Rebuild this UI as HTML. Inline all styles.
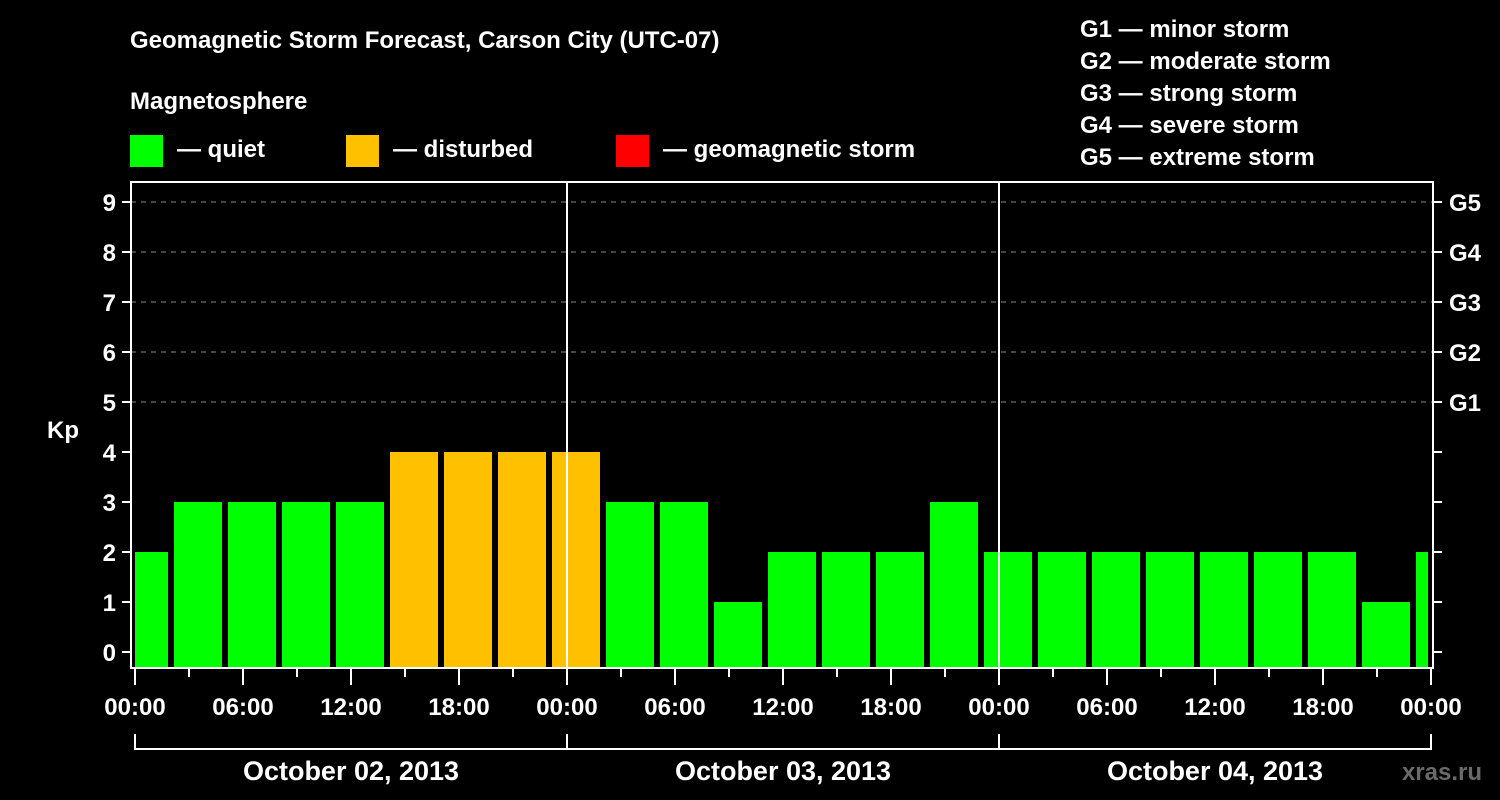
<!DOCTYPE html>
<html><head><meta charset="utf-8"><style>
html,body{margin:0;padding:0;background:#000;width:1500px;height:800px;overflow:hidden}
svg{display:block;font-family:"Liberation Sans",sans-serif;font-weight:bold;fill:#fff}
</style></head><body>
<svg id="chart" width="1500" height="800" viewBox="0 0 1500 800">
<rect x="0" y="0" width="1500" height="800" fill="#000"/>
<text x="130" y="48" font-size="24">Geomagnetic Storm Forecast, Carson City (UTC-07)</text>
<text x="130" y="109" font-size="24">Magnetosphere</text>
<g><rect x="130" y="135" width="33" height="32" fill="#00ff00"/><text x="177" y="157" font-size="24">— quiet</text></g>
<g><rect x="346" y="135" width="33" height="32" fill="#ffc000"/><text x="393" y="157" font-size="24">— disturbed</text></g>
<g><rect x="616" y="135" width="33" height="32" fill="#ff0000"/><text x="663" y="157" font-size="24">— geomagnetic storm</text></g>
<g font-size="24">
<text x="1080" y="37">G1 — minor storm</text>
<text x="1080" y="69">G2 — moderate storm</text>
<text x="1080" y="101">G3 — strong storm</text>
<text x="1080" y="133">G4 — severe storm</text>
<text x="1080" y="165">G5 — extreme storm</text>
</g>
<g id="grid"></g><g id="bars"></g><g id="axes"></g>
<text x="63" y="438" font-size="24" text-anchor="middle">Kp</text>
<text x="1482" y="780" font-size="24" text-anchor="end" fill="#666" style="fill:#6a6a6a">xras.ru</text>
</svg>
<script>
const kpValues = [2,3,3,3,3,4,4,4,4,3,3,1,2,2,2,3,2,2,2,2,2,2,2,1,2];
const firstSlotHour = -1; // 23:00 on Oct 1 local
const dayLabels = ["October 02, 2013","October 03, 2013","October 04, 2013"];
const hourLabels = ["00:00","06:00","12:00","18:00"];
const yTicks = [0,1,2,3,4,5,6,7,8,9];
const gLabels = ["G1","G2","G3","G4","G5"];

const NS="http://www.w3.org/2000/svg";
const X0=135, PX_H=18, plotL=131, plotR=1433, plotT=182, plotB=668;
const xh=h=>X0+h*PX_H;
const yv=v=>652-50*v;
function mk(tag,attrs,parent){const e=document.createElementNS(NS,tag);for(const k in attrs)e.setAttribute(k,attrs[k]);parent.appendChild(e);return e;}
const grid=document.getElementById('grid'),bars=document.getElementById('bars'),axes=document.getElementById('axes');
yTicks.forEach(v=>{if(v>=5){const l=mk('line',{x1:plotL,x2:plotR,y1:yv(v),y2:yv(v),stroke:'#888','stroke-dasharray':'5,5','stroke-width':1},grid);

}});
kpValues.forEach((v,i)=>{
  const h0=firstSlotHour+3*i;
  let x1=xh(h0)+3, x2=xh(h0+3)-3;
  x1=Math.max(x1,X0); x2=Math.min(x2,plotR-5);
  const c=v>=5?'#ff0000':(v>=4?'#ffc000':'#00ff00');
  const r=mk('rect',{x:x1,y:yv(v),width:x2-x1,height:plotB-yv(v),fill:c},bars);
  
  
});
// day separators
for(let d=1;d<3;d++){const l=mk('line',{x1:xh(24*d),x2:xh(24*d),y1:plotT,y2:plotB,stroke:'#fff','stroke-width':2},axes);

}
const fr=mk('rect',{x:plotL,y:plotT,width:plotR-plotL,height:plotB-plotT,fill:'none',stroke:'#fff','stroke-width':2},axes);


yTicks.forEach(v=>{
  mk('line',{x1:plotL-9,x2:plotL,y1:yv(v),y2:yv(v),stroke:'#fff','stroke-width':2},axes);
  mk('line',{x1:plotR,x2:plotR+9,y1:yv(v),y2:yv(v),stroke:'#fff','stroke-width':2},axes);
  const t=mk('text',{x:116,y:yv(v)+9,'font-size':24,'text-anchor':'end'},axes);t.textContent=v;
  
  
  if(v>=5){const g=mk('text',{x:1449,y:yv(v)+9,'font-size':24},axes);g.textContent=gLabels[v-5];
  
  }
});
for(let h=0;h<=72;h+=3){
  const major=h%6===0;
  mk('line',{x1:xh(h),x2:xh(h),y1:plotB,y2:plotB+(major?17:9),stroke:'#fff','stroke-width':2},axes);
  if(major){const t=mk('text',{x:xh(h),y:715,'font-size':24,'text-anchor':'middle'},axes);t.textContent=hourLabels[(h/6)%4];
  
  }
}
mk('polyline',{points:`${xh(0)},734 ${xh(0)},749 ${xh(72)},749 ${xh(72)},734`,fill:'none',stroke:'#fff','stroke-width':2},axes);
dayLabels.forEach((d,i)=>{
  if(i>0)mk('line',{x1:xh(24*i),x2:xh(24*i),y1:734,y2:749,stroke:'#fff','stroke-width':2},axes);
  const t=mk('text',{x:xh(24*i+12),y:780,'font-size':27,'text-anchor':'middle'},axes);t.textContent=d;
  
  
});
</script>
</body></html>
